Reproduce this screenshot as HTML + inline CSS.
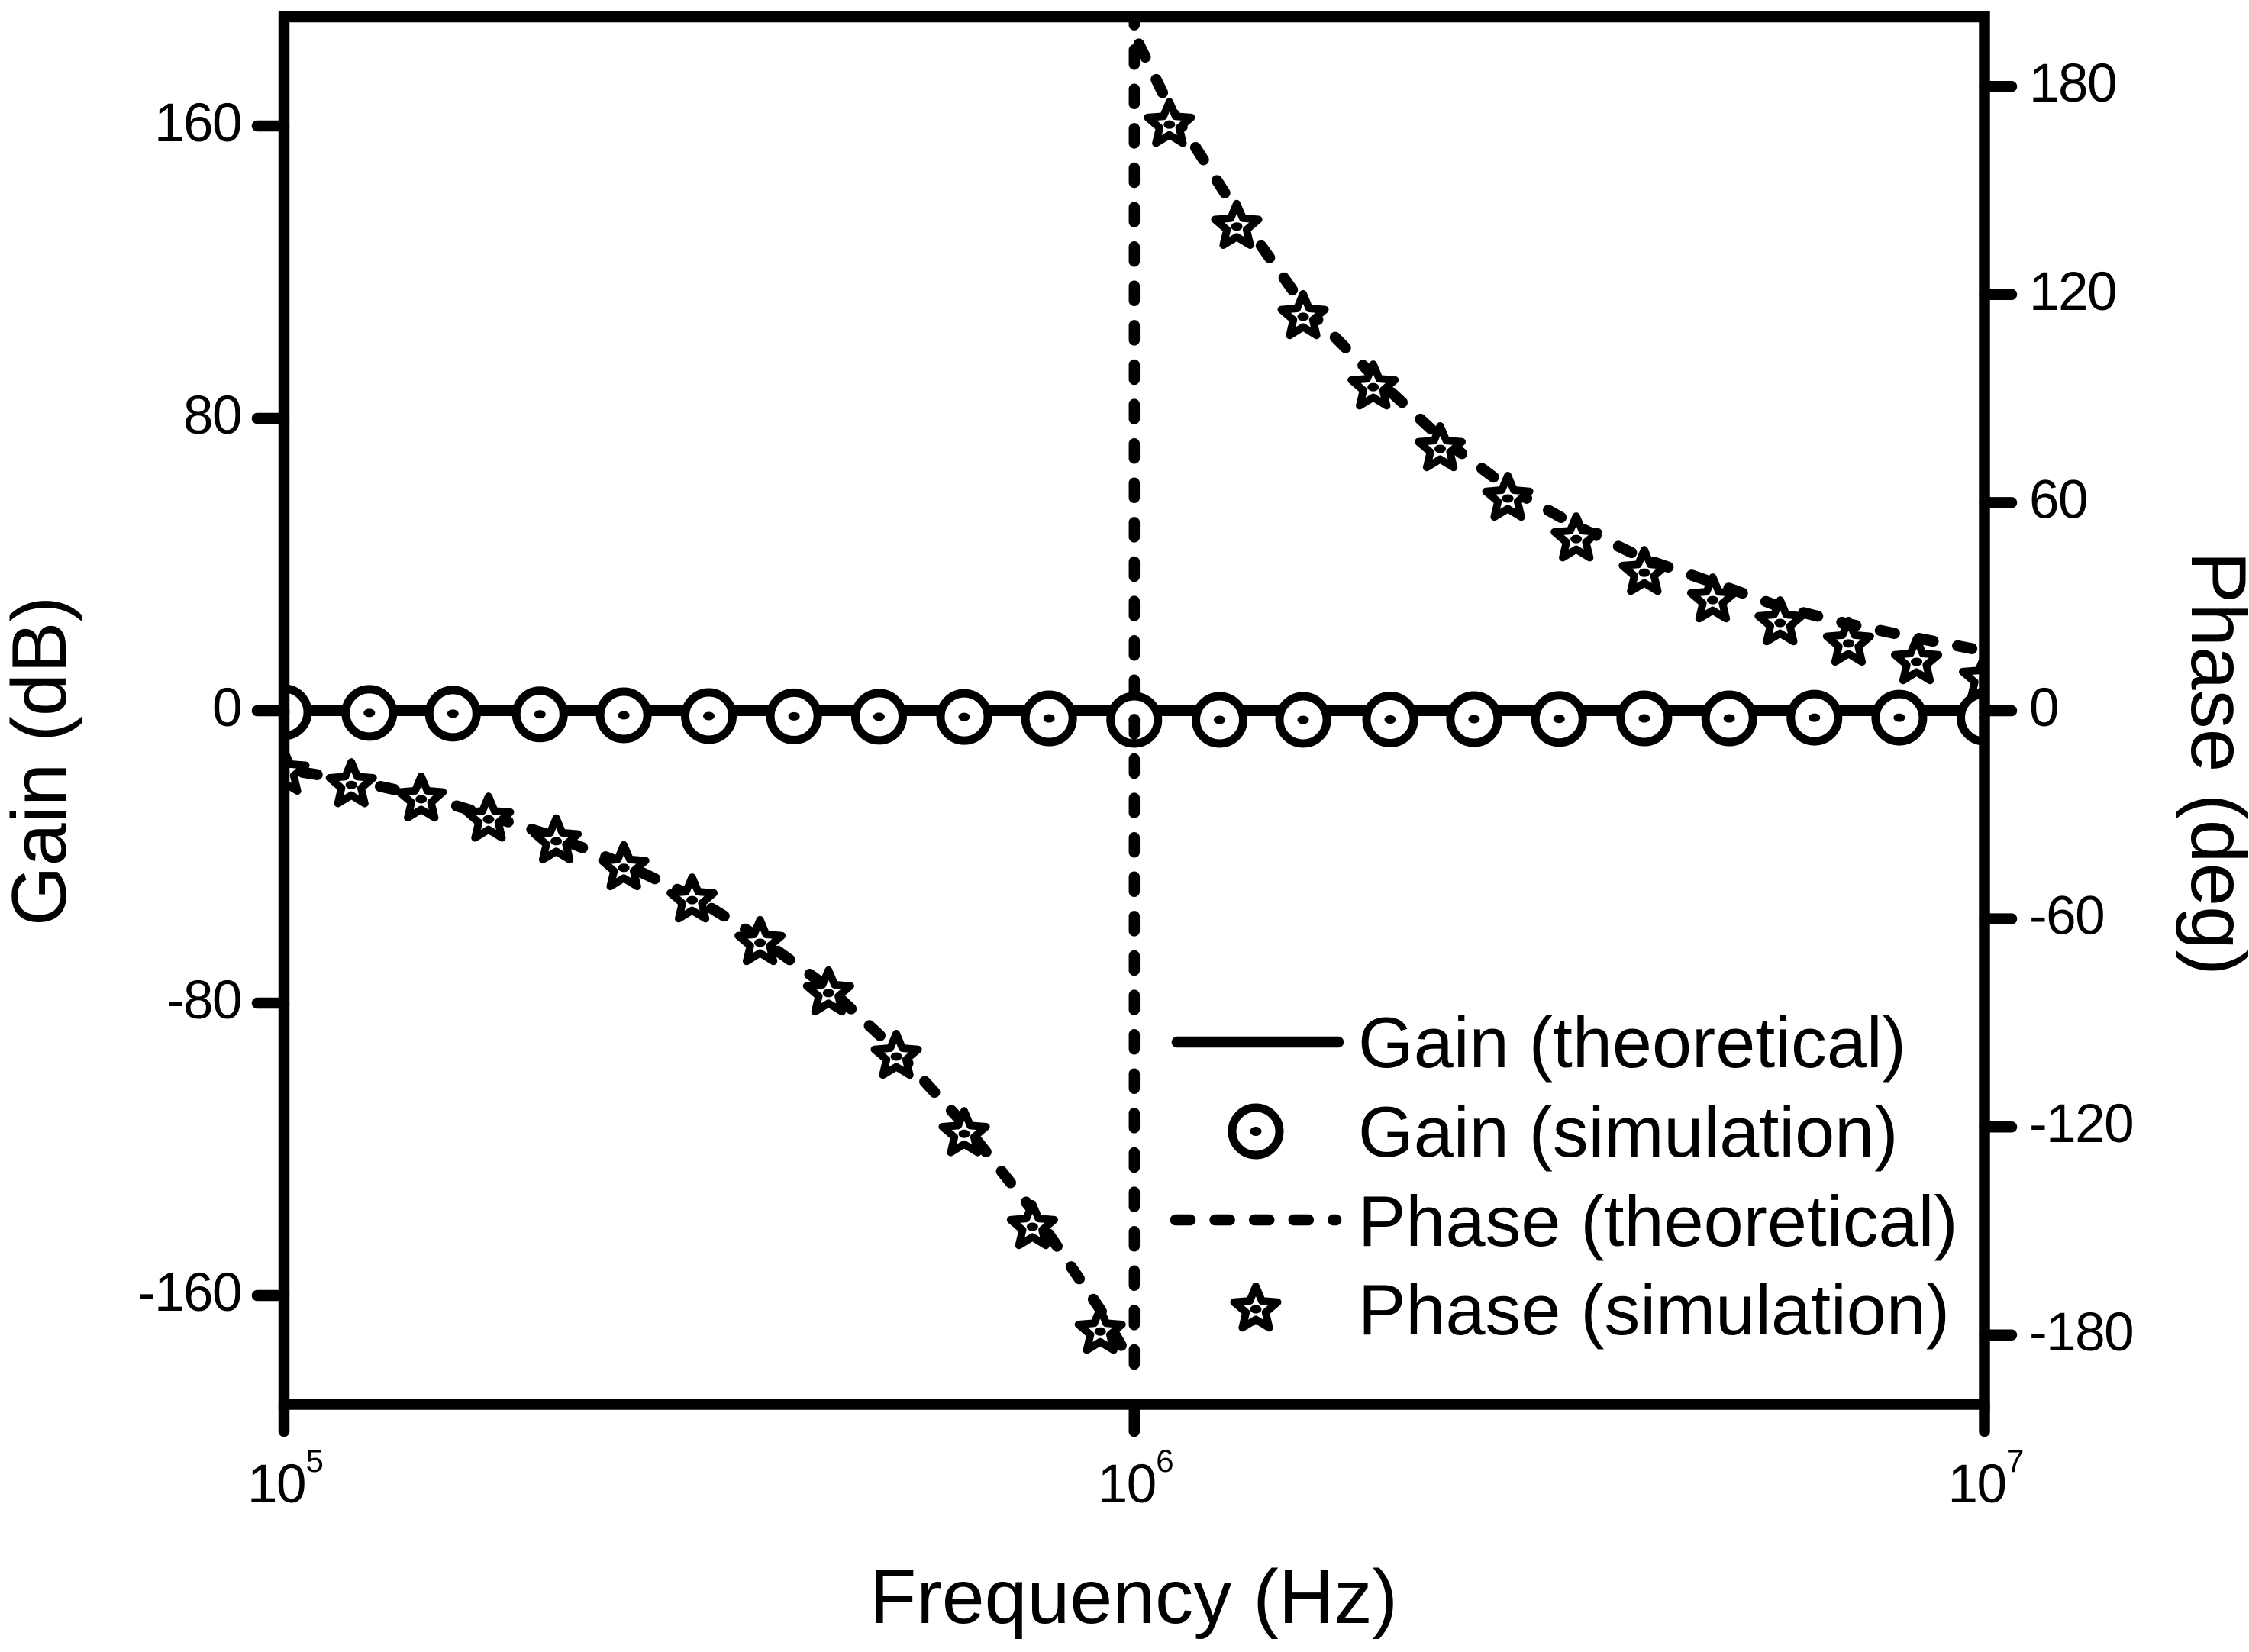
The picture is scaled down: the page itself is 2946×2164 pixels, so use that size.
<!DOCTYPE html>
<html lang="en">
<head>
<meta charset="utf-8">
<title>Gain and Phase vs Frequency</title>
<style>
html,body{margin:0;padding:0;background:#fff;}
svg{display:block;}
text{font-family:"Liberation Sans",Arial,sans-serif;fill:#000;}
</style>
</head>
<body>
<svg id="chart" xmlns="http://www.w3.org/2000/svg" width="2946" height="2164" viewBox="0 0 2946 2164">
  <rect x="0" y="0" width="2946" height="2164" fill="#fff"/>
  <defs><clipPath id="plot-clip"><rect x="372" y="22" width="2227.5" height="1817.5"/></clipPath></defs>
  <g id="plot" clip-path="url(#plot-clip)"></g>
  <rect x="372" y="22" width="2227.5" height="1817.5" fill="none" stroke="#000" stroke-width="14.5"/>
  <g id="axes"></g>
  <text x="1139" y="2126" font-size="100" textLength="692" lengthAdjust="spacingAndGlyphs">Frequency (Hz)</text>
  <text transform="translate(86 997) rotate(-90)" text-anchor="middle" font-size="101">Gain (dB)</text>
  <text transform="translate(2871 1000) rotate(90)" text-anchor="middle" font-size="102">Phase (deg)</text>
  <g id="legend">
    <line x1="1542" y1="1365" x2="1753" y2="1365" stroke="#000" stroke-width="14.5" stroke-linecap="round"/>
    <text x="1779" y="1398" font-size="93.6">Gain (theoretical)</text>
    <circle cx="1645" cy="1482" r="31" fill="#fff" stroke="#000" stroke-width="11"/>
    <ellipse cx="1645" cy="1482" rx="7.5" ry="6" fill="#000"/>
    <text x="1779" y="1515" font-size="93.6">Gain (simulation)</text>
    <line x1="1540" y1="1598" x2="1750" y2="1598" stroke="#000" stroke-width="14.5" stroke-linecap="round" stroke-dasharray="19 32.6"/>
    <text x="1779" y="1632" font-size="93.6">Phase (theoretical)</text>
    <g id="legend-star"></g>
    <text x="1779" y="1748" font-size="93.6">Phase (simulation)</text>
  </g>
</svg>
<script>
// ---- chart data ----
var gainTheoFreq = [1e5, 1e7];
var gainTheo = [0, 0];

var gainSimFreq = [1.00e5, 1.26e5, 1.58e5, 2.00e5, 2.51e5, 3.16e5, 3.98e5, 5.01e5, 6.31e5, 7.94e5, 1.00e6,
                   1.26e6, 1.58e6, 2.00e6, 2.51e6, 3.16e6, 3.98e6, 5.01e6, 6.31e6, 7.94e6, 1.00e7];
var gainSim = [-0.4, -0.6, -0.8, -1.0, -1.25, -1.45, -1.55, -1.65, -1.7, -2.1, -2.5,
               -2.5, -2.5, -2.4, -2.3, -2.25, -2.1, -2.1, -1.9, -1.9, -1.9];

var phaseSimFreq = [1.00e5, 1.20e5, 1.45e5, 1.74e5, 2.09e5, 2.51e5, 3.02e5, 3.63e5, 4.37e5, 5.25e5, 6.31e5, 7.59e5, 9.12e5,
                    1.10e6, 1.32e6, 1.58e6, 1.91e6, 2.29e6, 2.75e6, 3.31e6, 3.98e6, 4.79e6, 5.75e6, 6.92e6, 8.32e6, 1.00e7];
var phaseSim = [-17.8, -21.4, -25.5, -31.3, -37.6, -45.3, -54.6, -66.9, -81.4, -99.7, -122, -148.8, -179,
                169, 139.6, 113.6, 93.3, 75.5, 61.2, 49.5, 39.8, 31.9, 25.3, 19.4, 14.1, 9.2];

var phaseTheoLeftFreq = [1.00e5, 1.20e5, 1.45e5, 1.74e5, 2.09e5, 2.51e5, 3.02e5, 3.63e5, 4.37e5, 5.25e5, 6.31e5, 7.59e5, 9.12e5, 9.66e5, 1.00e6];
var phaseTheoLeft = [-16.9, -20, -24.4, -30.2, -36.5, -44.2, -53.5, -65.6, -79.9, -98, -119.3, -144, -172.6, -183.1, -188.4];

var phaseTheoWrapFreq = [1.00e6, 1.00e6];
var phaseTheoWrap = [-188.4, 200];

var phaseTheoRightFreq = [1.00e6, 1.10e6, 1.32e6, 1.58e6, 1.91e6, 2.29e6, 2.75e6, 3.31e6, 3.98e6, 4.79e6, 5.75e6, 6.92e6, 8.32e6, 1.00e7];
var phaseTheoRight = [195, 174.1, 144, 117, 96.6, 78.8, 64.3, 53.3, 43.8, 37, 30, 25, 21, 17.2];

var gainTickValues = [160, 80, 0, -80, -160];
var phaseTickValues = [180, 120, 60, 0, -60, -120, -180];
var freqTickValues = [1e5, 1e6, 1e7];
var freqTickBases = ["10", "10", "10"];
var freqTickExponents = ["5", "6", "7"];

// ---- axis functions ----
function xScale(f) { return 372 + (Math.log10(f) - 5) * 1113.75; }
function yGain(v) { return 931 - v * 4.7875; }
function yPhase(v) { return 931 - v * 4.5433; }

var NS = 'http://www.w3.org/2000/svg';
var plot = document.getElementById('plot');
var axes = document.getElementById('axes');

function make(tag, parent, attrs) {
  var node = document.createElementNS(NS, tag);
  for (var k in attrs) { node.setAttribute(k, attrs[k]); }
  parent.appendChild(node);
  return node;
}
function pointList(freqs, vals, yFn) {
  return freqs.map(function (f, i) { return xScale(f).toFixed(1) + ',' + yFn(vals[i]).toFixed(1); });
}
function starPoints(cx, cy) {
  var pts = [], R = 30, r = 13.5;
  for (var k = 0; k < 10; k++) {
    var rad = k % 2 ? r : R, a = -Math.PI / 2 + k * Math.PI / 5;
    pts.push((cx + rad * Math.cos(a)).toFixed(1) + ',' + (cy + rad * Math.sin(a)).toFixed(1));
  }
  return pts.join(' ');
}
function drawStar(parent, cx, cy) {
  var s = make('polygon', parent, { points: starPoints(cx, cy), fill: '#fff', stroke: '#000', 'stroke-width': 10, 'stroke-linejoin': 'round' });
  
  
  var d = make('ellipse', parent, { cx: cx, cy: cy, rx: 7.5, ry: 5.5, fill: '#000' });
  
  
}

// gain theoretical line
var gainLine = make('polyline', plot, { points: pointList(gainTheoFreq, gainTheo, yGain).join(' '), fill: 'none', stroke: '#000', 'stroke-width': 14 });



// gain simulation circles
gainSimFreq.forEach(function (f, i) {
  var c = make('circle', plot, { cx: xScale(f), cy: yGain(gainSim[i]), r: 31, fill: '#fff', stroke: '#000', 'stroke-width': 11 });
  
  
  var d = make('ellipse', plot, { cx: xScale(f), cy: yGain(gainSim[i]), rx: 7.5, ry: 5.5, fill: '#000' });
  
  
});

// phase theoretical dashed line (three segments around the wrap)
var dashStyle = { fill: 'none', stroke: '#000', 'stroke-width': 14.5, 'stroke-linecap': 'round', 'stroke-linejoin': 'round', 'stroke-dasharray': '19 32.6' };
function dashed(pts, offset) {
  var attrs = { points: pts.join(' '), 'stroke-dashoffset': offset };
  for (var k in dashStyle) { attrs[k] = dashStyle[k]; }
  return make('polyline', plot, attrs);
}
var thLeft = dashed(pointList(phaseTheoLeftFreq, phaseTheoLeft, yPhase).reverse(), 21.6);


var thWrap = dashed(pointList(phaseTheoWrapFreq, phaseTheoWrap, yPhase), 0);


var thRight = dashed(pointList(phaseTheoRightFreq, phaseTheoRight, yPhase), -14);



// phase simulation stars
phaseSimFreq.forEach(function (f, i) {
  drawStar(plot, xScale(f), yPhase(phaseSim[i]));
});

// legend star
drawStar(document.getElementById('legend-star'), 1645, 1715);

// ticks and labels
var tickStyle = { stroke: '#000', 'stroke-width': 14.5, 'stroke-linecap': 'round' };
function tick(x1, y1, x2, y2) {
  var attrs = { x1: x1, y1: y1, x2: x2, y2: y2 };
  for (var k in tickStyle) { attrs[k] = tickStyle[k]; }
  return make('line', axes, attrs);
}
gainTickValues.forEach(function (v) {
  var y = yGain(v);
  var t = tick(372, y, 337, y);
  
  
  var l = make('text', axes, { x: 316, y: y + 20, 'text-anchor': 'end', 'font-size': 71, 'letter-spacing': -1.5 });
  l.textContent = String(v);
  
  
});
phaseTickValues.forEach(function (v) {
  var y = yPhase(v);
  var t = tick(2599.5, y, 2635, y);
  
  
  var l = make('text', axes, { x: 2658, y: y + 20, 'font-size': 71, 'letter-spacing': -1.5 });
  l.textContent = String(v);
  
  
});
freqTickValues.forEach(function (f, i) {
  var x = xScale(f);
  var t = tick(x, 1839.5, x, 1875);
  
  
  var l = make('text', axes, { x: x - 48, y: 1968, 'font-size': 71, 'letter-spacing': -1.5 });
  l.textContent = freqTickBases[i];
  
  
  var e = make('text', axes, { x: x + 28.5, y: 1928, 'font-size': 42 });
  e.textContent = freqTickExponents[i];
  
  
});
</script>
</body>
</html>
